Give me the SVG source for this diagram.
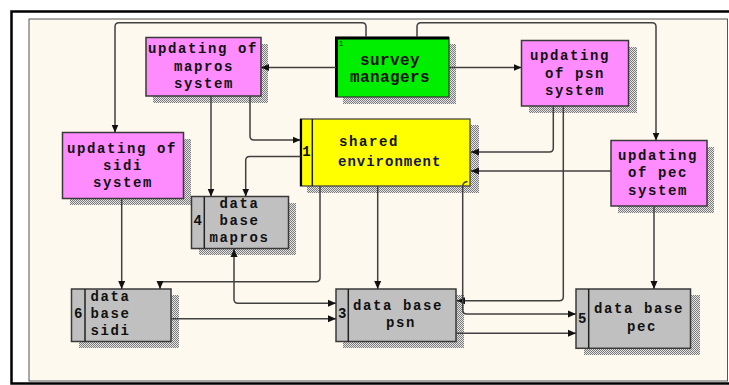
<svg xmlns="http://www.w3.org/2000/svg" width="729" height="385" viewBox="0 0 729 385">
  <defs>
    <!-- dithered drop shadow -->
    <pattern id="dither" width="2" height="2" patternUnits="userSpaceOnUse">
      <rect width="2" height="2" fill="#e6e6e6"/>
      <rect x="0" y="0" width="1" height="1" fill="#7a7a7a"/>
      <rect x="1" y="1" width="1" height="1" fill="#7a7a7a"/>
    </pattern>
    <marker id="arrow" viewBox="0 0 8 8" refX="8" refY="4" markerWidth="8" markerHeight="8" markerUnits="userSpaceOnUse" orient="auto-start-reverse">
      <path d="M0,0.5 L8,4 L0,7.5 z" fill="#111"/>
    </marker>
    <style>
      .shadow { fill: url(#dither); }
      .proc { fill: #ff8cff; stroke: #3a3a3a; stroke-width: 1.5; }
      .store { fill: #c0c0c0; stroke: #3a3a3a; stroke-width: 1.5; }
      .div { stroke: #222; stroke-width: 1.5; fill: none; }
      .lbl { font-family: "Liberation Mono", "DejaVu Sans Mono", monospace; font-weight: bold; font-size: 14px; letter-spacing: 1.6px; fill: #111; }
      .num { font-family: "Liberation Mono", "DejaVu Sans Mono", monospace; font-weight: bold; font-size: 14px; fill: #111; text-anchor: middle; }
      .conn path { fill: none; stroke: #404040; stroke-width: 1.5; }
    </style>
  </defs>

  <!-- frame and canvas -->
  <rect x="11.5" y="11.5" width="722" height="372" fill="#ffffff" stroke="#000" stroke-width="2.5"/>
  <rect x="29" y="19" width="698.5" height="362" fill="#fef9ee" stroke="#555" stroke-width="1"/>

  <!-- external entity -->
  <g id="survey-managers">
    <rect class="shadow" x="343" y="44" width="113" height="60"/>
    <rect x="336" y="37.5" width="113" height="59.5" fill="#00ee00" stroke="#333" stroke-width="1.2"/>
    <path d="M336.5,97 V38 H449" fill="none" stroke="#000" stroke-width="3"/>
    <text x="339" y="46" font-family="Liberation Sans, Arial, sans-serif" font-size="8" fill="#111">1</text>
    <text x="360" y="65" font-family="Liberation Mono, monospace" font-weight="bold" font-size="16" letter-spacing="0.4" fill="#111">survey</text>
    <text x="350" y="82" font-family="Liberation Mono, monospace" font-weight="bold" font-size="16" letter-spacing="0.4" fill="#111">managers</text>
  </g>

  <!-- processes -->
  <g id="update-mapros">
    <rect class="shadow" x="153" y="44" width="115" height="59"/>
    <rect class="proc" x="146" y="37.5" width="115" height="58.5"/>
    <text class="lbl" x="148" y="53">updating of</text>
    <text class="lbl" x="174" y="71">mapros</text>
    <text class="lbl" x="174" y="88">system</text>
  </g>

  <g id="update-psn">
    <rect class="shadow" x="529" y="47" width="108" height="66"/>
    <rect class="proc" x="521.5" y="40.5" width="107" height="65.5"/>
    <text class="lbl" x="530" y="60">updating</text>
    <text class="lbl" x="545" y="78">of psn</text>
    <text class="lbl" x="545" y="95">system</text>
  </g>

  <g id="update-sidi">
    <rect class="shadow" x="70" y="139" width="121" height="66"/>
    <rect class="proc" x="62.5" y="132.5" width="121" height="66"/>
    <text class="lbl" x="67" y="153">updating of</text>
    <text class="lbl" x="103" y="170">sidi</text>
    <text class="lbl" x="93" y="187">system</text>
  </g>

  <g id="update-pec">
    <rect class="shadow" x="618" y="147" width="96" height="66"/>
    <rect class="proc" x="611" y="140.5" width="96" height="65.5"/>
    <text class="lbl" x="618" y="160">updating</text>
    <text class="lbl" x="628" y="177">of pec</text>
    <text class="lbl" x="628" y="195">system</text>
  </g>

  <g id="shared-environment">
    <rect class="shadow" x="307" y="125" width="172" height="68"/>
    <rect x="300.5" y="119" width="169.5" height="67" fill="#ffff00" stroke="#3a3a3a" stroke-width="1.2"/>
    <path d="M301,119 V186" stroke="#000" stroke-width="2.2"/>
    <path class="div" d="M312.3,119 V186"/>
    <text class="num" x="306.5" y="156" font-size="15">1</text>
    <text class="lbl" x="339" y="146">shared</text>
    <text x="338" y="166" font-family="Liberation Mono, monospace" font-size="14" letter-spacing="1" fill="#141450" font-weight="bold">environment</text>
  </g>

  <!-- data stores -->
  <g id="db-mapros">
    <rect class="shadow" x="199" y="203" width="97" height="52"/>
    <rect class="store" x="191.5" y="196.5" width="97" height="52"/>
    <path class="div" d="M204.3,196.5 V248.5"/>
    <text class="num" x="197.8" y="225">4</text>
    <text class="lbl" x="219.5" y="208">data</text>
    <text class="lbl" x="219.5" y="225">base</text>
    <text class="lbl" x="209.5" y="242">mapros</text>
  </g>

  <g id="db-sidi">
    <rect class="shadow" x="79" y="295" width="100" height="53"/>
    <rect class="store" x="71.5" y="289" width="99.5" height="52.5"/>
    <path class="div" d="M85,289 V341.5"/>
    <text class="num" x="78.3" y="318">6</text>
    <text class="lbl" x="90.5" y="301">data</text>
    <text class="lbl" x="90.5" y="318">base</text>
    <text class="lbl" x="90.5" y="334.5">sidi</text>
  </g>

  <g id="db-psn">
    <rect class="shadow" x="343" y="295" width="121" height="53"/>
    <rect class="store" x="336" y="289" width="120" height="52.5"/>
    <path class="div" d="M348.3,289 V341.5"/>
    <text class="num" x="342.2" y="318">3</text>
    <text class="lbl" x="353" y="310">data base</text>
    <text class="lbl" x="386" y="327">psn</text>
  </g>

  <g id="db-pec">
    <rect class="shadow" x="584" y="295" width="116" height="60"/>
    <rect class="store" x="576" y="289" width="114.5" height="59.3"/>
    <path class="div" d="M588.7,289 V348.3"/>
    <text class="num" x="582.3" y="323">5</text>
    <text class="lbl" x="594" y="313">data base</text>
    <text class="lbl" x="627" y="331">pec</text>
  </g>

  <!-- connectors -->
  <g id="connectors" class="conn">
    <path d="M336,67.5 H261" marker-end="url(#arrow)"/>
    <path d="M449,67.5 H521.5" marker-end="url(#arrow)"/>
    <path d="M366,37 V26.7 Q366,22.7 362,22.7 H119 Q115,22.7 115,26.7 V132.5" marker-end="url(#arrow)"/>
    <path d="M417,37 V26.7 Q417,22.7 421,22.7 H652 Q656,22.7 656,26.7 V140.5" marker-end="url(#arrow)"/>
    <path d="M211,96 V196.5" marker-end="url(#arrow)"/>
    <path d="M250,96 V136 Q250,140 254,140 H300.5" marker-end="url(#arrow)"/>
    <path d="M300.5,156.5 H249.7 Q245.7,156.5 245.7,160.5 V196.5" marker-end="url(#arrow)"/>
    <path d="M553.3,106 V148 Q553.3,152 549.3,152 H471" marker-end="url(#arrow)"/>
    <path d="M611,171 H471" marker-end="url(#arrow)"/>
    <path d="M563.3,106 V296.7 Q563.3,300.7 559.3,300.7 H457" marker-end="url(#arrow)"/>
    <path d="M467.5,181.5 Q462.7,182 462.7,186.5 V310 Q462.7,314 466.7,314 H576" marker-end="url(#arrow)"/>
    <path d="M377.7,186 V289" marker-end="url(#arrow)"/>
    <path d="M320,186 V277.7 Q320,281.7 316,281.7 H160 V289" marker-end="url(#arrow)"/>
    <path d="M234,249 V299.3 Q234,303.3 238,303.3 H336" marker-start="url(#arrow)" marker-end="url(#arrow)"/>
    <path d="M171,318.7 H336" marker-end="url(#arrow)"/>
    <path d="M456,333.3 H576" marker-end="url(#arrow)"/>
    <path d="M654,206 V289" marker-end="url(#arrow)"/>
    <path d="M121.7,198.5 V289" marker-end="url(#arrow)"/>
  </g>
</svg>
